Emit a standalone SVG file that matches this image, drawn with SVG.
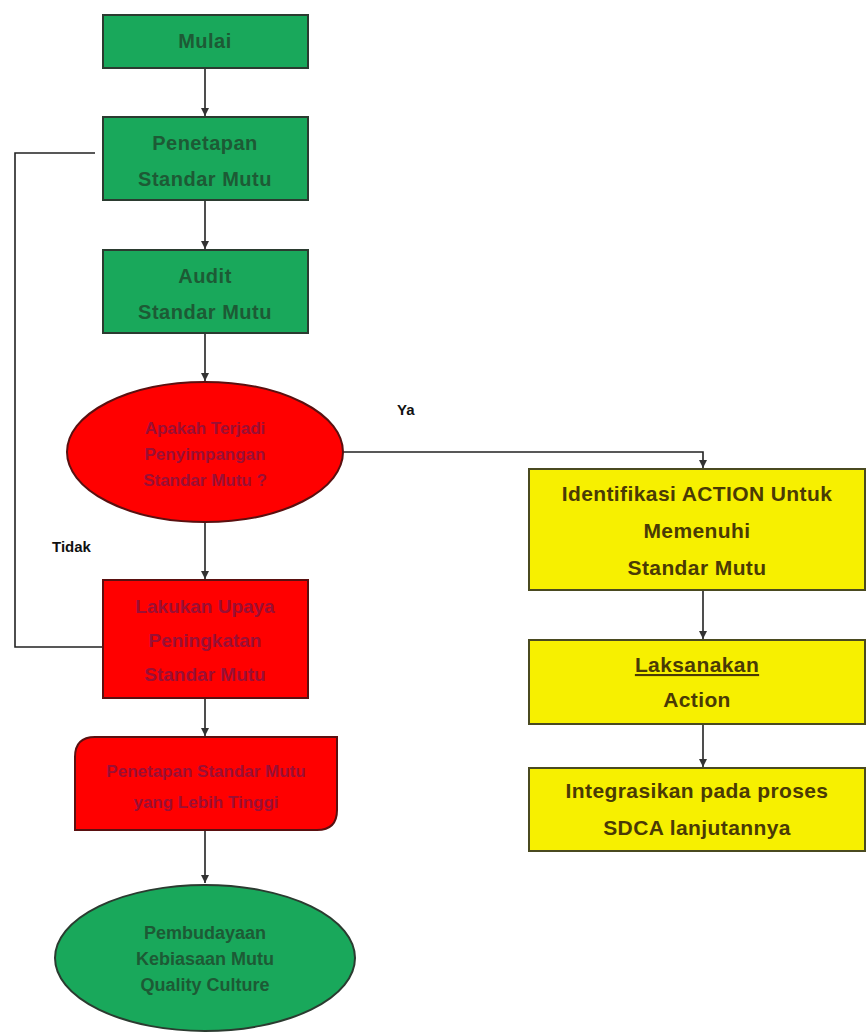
<svg xmlns="http://www.w3.org/2000/svg" width="866" height="1032" viewBox="0 0 866 1032">
<defs>
<marker id="arr" viewBox="0 0 10 10" refX="10" refY="5" markerWidth="5" markerHeight="5" orient="auto"><path d="M0,0 L10,5 L0,10 z" fill="#333"/></marker>
<style>
.g{fill:#19a85b;stroke:#2b3b30;stroke-width:2}
.r{fill:#ff0000;stroke:#5a1010;stroke-width:2}
.y{fill:#f7f000;stroke:#4a4a20;stroke-width:2}
text{font-family:"Liberation Sans",Arial,sans-serif;font-weight:bold;text-anchor:middle}
.tg{fill:#1d5a35;font-size:20px;letter-spacing:0.5px}
.tge{fill:#1d5a35;font-size:18px}
.tr{fill:#9a0f35;font-size:19px}
.tre{fill:#9a0f35;font-size:17px}
.ty{fill:#4a3a05;font-size:21px;letter-spacing:0.4px}
.lb{fill:#111;font-size:15px;text-anchor:start}
.c{fill:none;stroke:#222;stroke-width:1.6}
</style>
</defs>
<g id="connectors">
<line class="c" x1="205" y1="68" x2="205" y2="116" marker-end="url(#arr)"/>
<line class="c" x1="205" y1="200" x2="205" y2="249" marker-end="url(#arr)"/>
<line class="c" x1="205" y1="333" x2="205" y2="381" marker-end="url(#arr)"/>
<polyline class="c" points="343,452 703,452 703,468" marker-end="url(#arr)"/>
<line class="c" x1="205" y1="522" x2="205" y2="579" marker-end="url(#arr)"/>
<line class="c" x1="205" y1="698" x2="205" y2="736" marker-end="url(#arr)"/>
<line class="c" x1="205" y1="830" x2="205" y2="883" marker-end="url(#arr)"/>
<line class="c" x1="703" y1="590" x2="703" y2="639" marker-end="url(#arr)"/>
<line class="c" x1="703" y1="724" x2="703" y2="767" marker-end="url(#arr)"/>
<polyline class="c" points="103,647 15,647 15,153 95,153"/>
</g>
<g id="mulai">
<rect class="g" x="103" y="15" width="205" height="53"/>
<text class="tg" x="205" y="48">Mulai</text>
</g>
<g id="penetapan">
<rect class="g" x="103" y="117" width="205" height="83"/>
<text class="tg" x="205" y="150">Penetapan</text>
<text class="tg" x="205" y="186">Standar Mutu</text>
</g>
<g id="audit">
<rect class="g" x="103" y="250" width="205" height="83"/>
<text class="tg" x="205" y="283">Audit</text>
<text class="tg" x="205" y="319">Standar Mutu</text>
</g>
<g id="keputusan">
<ellipse class="r" cx="205" cy="452" rx="138" ry="70"/>
<text class="tre" x="205" y="434">Apakah Terjadi</text>
<text class="tre" x="205" y="460">Penyimpangan</text>
<text class="tre" x="205" y="486">Standar Mutu ?</text>
</g>
<g id="label-ya"><text class="lb" x="397" y="415">Ya</text></g>
<g id="label-tidak"><text class="lb" x="52" y="552">Tidak</text></g>
<g id="peningkatan">
<rect class="r" x="103" y="580" width="205" height="118"/>
<text class="tr" x="205" y="613">Lakukan Upaya</text>
<text class="tr" x="205" y="647">Peningkatan</text>
<text class="tr" x="205" y="681">Standar Mutu</text>
</g>
<g id="standar-baru">
<path class="r" d="M95,737 L337,737 L337,810 Q337,830 317,830 L75,830 L75,757 Q75,737 95,737 z"/>
<text class="tre" x="206" y="777">Penetapan Standar Mutu</text>
<text class="tre" x="206" y="808">yang Lebih Tinggi</text>
</g>
<g id="budaya">
<ellipse class="g" cx="205" cy="958" rx="150" ry="73"/>
<text class="tge" x="205" y="939">Pembudayaan</text>
<text class="tge" x="205" y="965">Kebiasaan Mutu</text>
<text class="tge" x="205" y="991">Quality Culture</text>
</g>
<g id="identifikasi">
<rect class="y" x="529" y="469" width="336" height="121"/>
<text class="ty" x="697" y="501">Identifikasi ACTION Untuk</text>
<text class="ty" x="697" y="538">Memenuhi</text>
<text class="ty" x="697" y="575">Standar Mutu</text>
</g>
<g id="laksanakan">
<rect class="y" x="529" y="640" width="336" height="84"/>
<text class="ty" x="697" y="672" text-decoration="underline">Laksanakan</text>
<text class="ty" x="697" y="707">Action</text>
</g>
<g id="integrasikan">
<rect class="y" x="529" y="768" width="336" height="83"/>
<text class="ty" x="697" y="798">Integrasikan pada proses</text>
<text class="ty" x="697" y="835">SDCA lanjutannya</text>
</g>
</svg>
